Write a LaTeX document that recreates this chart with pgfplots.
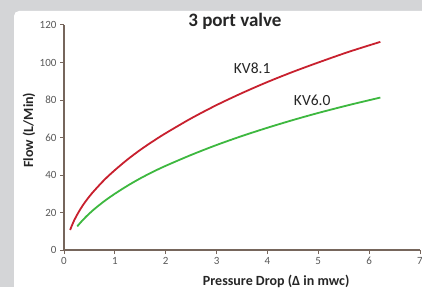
\documentclass[border=0pt]{standalone}
\usepackage{pgfplots}
\pgfplotsset{compat=1.18}
\usepackage{fontspec}
\setmainfont{Carlito}
\definecolor{bg}{HTML}{D4D5D7}
\definecolor{axiscol}{HTML}{76665C}
\definecolor{ticktxt}{HTML}{595959}
\definecolor{titletxt}{HTML}{262626}
\definecolor{kvred}{HTML}{C8202E}
\definecolor{kvgreen}{HTML}{3DB83F}
\begin{document}
\begin{tikzpicture}
\fill[bg] (0,0) rectangle (422pt,287pt);
\fill[white] (14pt,0pt) [rounded corners=5pt] -- (14pt,276pt) [sharp corners] -- (422pt,276pt) -- (422pt,0pt) -- cycle;
\useasboundingbox (0,0) rectangle (422pt,287pt);
\begin{axis}[
  at={(64pt,37pt)}, anchor=south west,
  scale only axis, width=356pt, height=225pt,
  xmin=0, xmax=7, ymin=0, ymax=120,
  axis lines=left,
  axis line style={-, draw=axiscol, line width=1.1pt},
  xtick={0,1,...,7}, ytick={0,20,...,120},
  tick align=outside, major tick length=4pt,
  tick style={draw=axiscol, line width=1pt},
  ticklabel style={font=\fontsize{11}{13}\selectfont, text=ticktxt},
  /pgf/number format/assume math mode=true,
  xlabel={Pressure Drop (Δ in mwc)},
  ylabel={Flow (L/Min)},
  every axis x label/.style={at={(axis description cs:0.596,0)}, anchor=base, yshift=-35pt, font=\bfseries\fontsize{14}{16}\selectfont, text=titletxt},
  every axis y label/.style={at={(axis description cs:0,0.533)}, anchor=center, xshift=-35pt, rotate=90, font=\bfseries\fontsize{14}{16}\selectfont, text=titletxt},
  title={3 port valve},
  every axis title/.style={at={(axis description cs:0.48,1)}, anchor=base, yshift=-2pt, font=\bfseries\fontsize{19}{21}\selectfont, text=titletxt},
  clip=false,
]
\addplot[kvred, line width=1.8pt, smooth, line join=round] coordinates {
 (0.12,10.7) (0.2,15.8) (0.3,20.8) (0.4,25) (0.5,28.6) (0.6,31.8) (0.8,37.6) (1.0,42.6) (1.25,48.3) (1.5,53.4) (1.75,58.0) (2.0,62.3) (2.5,70.2) (3.0,77.3) (3.5,83.7) (4.0,89.6) (4.5,95.0) (5.0,100.0) (5.6,105.7) (6.22,111)
};
\addplot[kvgreen, line width=1.8pt, smooth, line join=round] coordinates {
 (0.26,12.6) (0.35,15.4) (0.45,18.2) (0.6,21.9) (0.8,26.2) (1.0,30) (1.25,34.3) (1.5,38.2) (1.75,41.7) (2.0,44.9) (2.5,50.7) (3.0,56.0) (3.5,60.8) (4.0,65.2) (4.5,69.3) (5.0,73.1) (5.6,77.3) (6.22,81.3)
};
\node[anchor=base, text=titletxt, font=\fontsize{15.5}{17}\selectfont] at (axis cs:3.70,94.4) {KV8.1};
\node[anchor=base, text=titletxt, font=\fontsize{15.5}{17}\selectfont] at (axis cs:4.88,77.3) {KV6.0};
\end{axis}
\end{tikzpicture}
\end{document}
